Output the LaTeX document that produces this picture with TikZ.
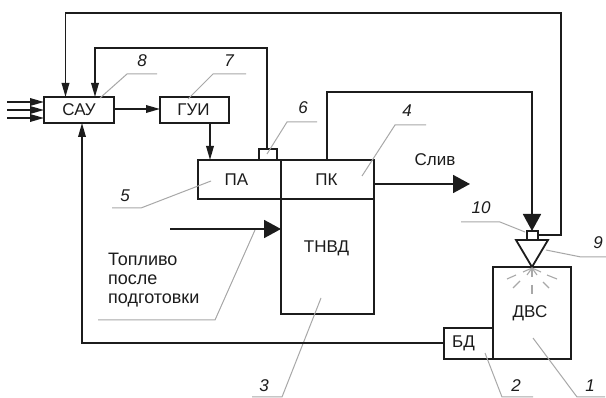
\documentclass[tikz,border=0pt]{standalone}
\usepackage{fontspec}
\setmainfont{Liberation Sans}
\usetikzlibrary{arrows.meta}
\definecolor{ink}{HTML}{1C1C1C}
\definecolor{lead}{HTML}{A8A8A8}
\tikzset{x=1pt,y=-1pt,
  blk/.style={draw=ink,line width=1.8pt,fill=white,inner sep=0pt,outer sep=0pt,anchor=north west,font=\fontsize{17}{17}\selectfont,text=ink},
  wire/.style={draw=ink,line width=1.8pt},
  lead/.style={draw=lead,line width=1pt},
  spray/.style={draw=lead,line width=1.1pt},
  big/.style={-{Triangle[length=17pt,width=18pt]}},
  mid/.style={-{Triangle[length=14pt,width=7.5pt]}},
  num/.style={font=\fontsize{17}{17}\selectfont\itshape,text=ink,inner sep=0pt},
  lab/.style={font=\fontsize{17}{17}\selectfont,text=ink,inner sep=0pt}}
\begin{document}
\begin{tikzpicture}
\useasboundingbox (0,0) rectangle (606,398);
\fill[white] (0,0) rectangle (606,398);
% blocks
\node[blk,minimum width=70pt,minimum height=26pt] (sau) at (44,97) {САУ};
\node[blk,minimum width=69pt,minimum height=26pt] (gui) at (160,97) {\hspace*{-2pt}ГУИ};
\node[blk,minimum width=83pt,minimum height=39pt] (pa) at (198,160) {\hspace*{-6pt}ПА};
\node[blk,minimum width=93pt,minimum height=39pt] (pk) at (281,160) {\hspace*{-2pt}ПК};
\node[blk,minimum width=93pt,minimum height=115pt] (tn) at (281,199) {\hspace*{-2pt}\raisebox{20pt}{ТНВД}};
\node[blk,minimum width=18pt,minimum height=11pt] (sens) at (259,149) {};
\node[blk,minimum width=78pt,minimum height=92pt] (dvs) at (493,267) {\hspace*{-4pt}\raisebox{-5pt}{ДВС}};
\node[blk,minimum width=49pt,minimum height=31pt] (bd) at (444,328) {\hspace*{-10pt}БД};
\node[blk,minimum width=11pt,minimum height=9pt] (s10) at (527,231) {};
% nozzle
\coordinate (nl) at (516,240);
\coordinate (nr) at (548,240);
\coordinate (nt) at (532,267);
\draw[wire,fill=white] (nl)--(nr)--(nt)--cycle;
% leaders
\draw[lead] (100,98)--(127,74)--(157,74);
\draw[lead] (188,99)--(213,74)--(246,74);
\draw[lead] (267,154)--(287,122)--(317,122);
\draw[lead] (211,181)--(141,208)--(112,208);
\draw[lead] (362,176)--(395,125)--(426,125);
\draw[lead] (255,230)--(215,320)--(98,320);
\draw[lead] (321,298)--(282,397)--(252,397);
\draw[lead] (485,353)--(502,397)--(533,397);
\draw[lead] (533,338)--(577,397)--(605,397);
\draw[lead] (546,250)--(581,257)--(606,257);
\draw[lead] (461,222)--(500,222)--(525,232);
% spray
\foreach \a/\b/\c/\d in {507/279/516/275,513/288/520/281,532/285/532/294,543/282/549/288,547/275/557/279,532/268/523/272,532/268/527/275,532/268/532/277,532/268/537/275,532/268/541/272}
  \draw[spray] (\a,\b)--(\c,\d);
% connectors
\coordinate (t1) at (7,102); \coordinate (t2) at (7,110); \coordinate (t3) at (7,118);
\draw[wire,mid] (t1)--(sau.west |- t1);
\draw[wire,mid] (t2)--(sau.west |- t2);
\draw[wire,mid] (t3)--(sau.west |- t3);
\draw[wire,mid] (sau.east |- 0,109)--(gui.west |- 0,109);
\draw[wire,mid] (210,123)--(210,160);
\draw[wire,mid] (s10.east |- 0,235)--(561,235)--(561,13)--(65.5,13)--(65.5,97);
\draw[wire,mid] (267,149)--(267,48)--(95,48)--(95,97);
\draw[wire,big] (327,160)--(327,92)--(532,92)--(532,231);
\draw[wire,mid] (bd.west |- 0,343)--(82,343)--(82,123);
\draw[wire,big] (374,184)--(470,184);
\coordinate (fuel) at (170,229);
\draw[wire,big] (fuel)--(281,229);
% labels
\node[lab] (sl) at (435,160) {Слив};
\node[lab,align=left,anchor=north west,font=\fontsize{18}{19}\selectfont] (top) at (108,253) {Топливо\\после\\подготовки};
\node[num] (n8) at (142,61) {8};
\node[num] (n7) at (229,61) {7};
\node[num] (n6) at (303,108) {6};
\node[num] (n5) at (125,196) {5};
\node[num] (n4) at (407,111) {4};
\node[num] (n3) at (264,386) {3};
\node[num] (n2) at (516,386) {2};
\node[num] (n1) at (590,386) {1};
\node[num] (n9) at (598,243) {9};
\node[num] (n10) at (481,208) {10};
\end{tikzpicture}
\end{document}
